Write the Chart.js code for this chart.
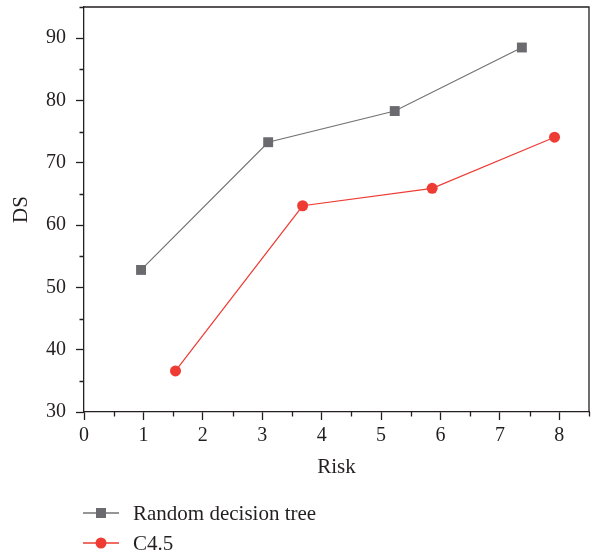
<!DOCTYPE html>
<html>
<head>
<meta charset="utf-8">
<script src="https://cdn.jsdelivr.net/npm/chart.js@4.4.1/dist/chart.umd.min.js"></script>
<style>
  html, body { margin: 0; padding: 0; background: #fff; }
  #wrap { position: relative; width: 596px; height: 554px; }
  #legend { position: absolute; left: 83px; top: 498px; font-family: 'Liberation Serif', serif; font-size: 21px; color: #231f20; }
  .row { display: flex; align-items: center; height: 30px; }
  .row svg { margin-right: 14px; }
</style>
</head>
<body>
<div id="wrap">
  <canvas id="c" width="596" height="554"></canvas>
  <div id="legend"></div>
</div>
<script>
// ---- data ----
const seriesNames = ['Random decision tree', 'C4.5'];
const rdtRisk = [0.96, 3.10, 5.23, 7.37];
const rdtDS   = [52.8, 73.3, 78.3, 88.5];
const c45Risk = [1.54, 3.68, 5.86, 7.92];
const c45DS   = [36.6, 63.1, 65.9, 74.1];
const xTicks = [0, 1, 2, 3, 4, 5, 6, 7, 8];
const yTicks = [30, 40, 50, 60, 70, 80, 90];
const xMinorTicks = [0.5, 1.5, 2.5, 3.5, 4.5, 5.5, 6.5, 7.5, 8.5];
const yMinorTicks = [35, 45, 55, 65, 75, 85, 95];
const xTitle = 'Risk';
const yTitle = 'DS';

const GRAY_LINE = '#737373';
const GRAY_MARK = '#6a6a6f';
const RED = '#ee3b33';
const INK = '#231f20';
const FONT = "'Liberation Serif', serif";

function pts(xs, ys) { return xs.map((x, i) => ({ x: x, y: ys[i] })); }

const frame = {
  id: 'frame',
  afterDraw(chart) {
    const { ctx, chartArea: a, scales: { x, y } } = chart;
    ctx.save();
    ctx.strokeStyle = INK;
    ctx.lineWidth = 1.3;
    ctx.beginPath();
    ctx.moveTo(a.left, a.top);
    ctx.lineTo(a.right, a.top);
    ctx.lineTo(a.right, a.bottom);
    ctx.stroke();
    ctx.beginPath();
    xMinorTicks.forEach(v => {
      const px = Math.round(x.getPixelForValue(v)) + 0.5;
      ctx.moveTo(px, a.bottom);
      ctx.lineTo(px, a.bottom + 4.5);
    });
    yMinorTicks.forEach(v => {
      const py = Math.round(y.getPixelForValue(v)) + 0.5;
      ctx.moveTo(a.left, py);
      ctx.lineTo(a.left - 4.5, py);
    });
    ctx.stroke();
    ctx.restore();
  }
};

new Chart(document.getElementById('c'), {
  type: 'line',
  data: {
    datasets: [
      {
        label: seriesNames[0],
        data: pts(rdtRisk, rdtDS),
        borderColor: GRAY_LINE,
        borderWidth: 1.2,
        pointStyle: 'rect',
        pointRadius: 7,
        pointBackgroundColor: GRAY_MARK,
        pointBorderColor: GRAY_MARK,
        pointBorderWidth: 0,
        tension: 0
      },
      {
        label: seriesNames[1],
        data: pts(c45Risk, c45DS),
        borderColor: RED,
        borderWidth: 1.2,
        pointStyle: 'circle',
        pointRadius: 5.5,
        pointBackgroundColor: RED,
        pointBorderColor: RED,
        pointBorderWidth: 0,
        tension: 0
      }
    ]
  },
  options: {
    responsive: false,
    animation: false,
    devicePixelRatio: 1,
    layout: { padding: { left: 0, top: 6, right: 7, bottom: 0 } },
    plugins: { legend: { display: false }, tooltip: { enabled: false } },
    scales: {
      x: {
        type: 'linear',
        min: 0, max: 8.5,
        afterBuildTicks(s) { s.ticks = xTicks.map(v => ({ value: v })); },
        afterFit(s) { s.height = 142; s.paddingLeft = 0; s.paddingRight = 0; },
        grid: { drawOnChartArea: false, drawTicks: true, tickLength: 8, tickColor: INK, tickWidth: 1.3 },
        border: { color: INK, width: 1.3 },
        ticks: { color: INK, font: { family: FONT, size: 20 }, padding: 4, maxRotation: 0, autoSkip: false },
        title: { display: true, text: xTitle, color: INK, font: { family: FONT, size: 21 }, padding: { top: 0, bottom: 74 } }
      },
      y: {
        type: 'linear',
        min: 30, max: 95,
        afterBuildTicks(s) { s.ticks = yTicks.map(v => ({ value: v })); },
        afterFit(s) { s.width = 84; s.paddingTop = 0; s.paddingBottom = 0; },
        grid: { drawOnChartArea: false, drawTicks: true, tickLength: 8, tickColor: INK, tickWidth: 1.3 },
        border: { color: INK, width: 1.3 },
        ticks: { color: INK, font: { family: FONT, size: 20 }, padding: 10, autoSkip: false },
        title: { display: true, text: yTitle, color: INK, font: { family: FONT, size: 21 }, padding: { top: 9, bottom: 0 } }
      }
    }
  },
  plugins: [frame]
});

// HTML legend
const legendDefs = [
  { name: seriesNames[0], color: GRAY_LINE, mark: GRAY_MARK, shape: 'rect' },
  { name: seriesNames[1], color: RED, mark: RED, shape: 'circle' }
];
const lg = document.getElementById('legend');
legendDefs.forEach(d => {
  const row = document.createElement('div');
  row.className = 'row';
  const markSvg = d.shape === 'rect'
    ? `<rect x="13" y="2" width="10" height="10" fill="${d.mark}"/>`
    : `<circle cx="18" cy="7" r="5.5" fill="${d.mark}"/>`;
  row.innerHTML = `<svg width="36" height="14" viewBox="0 0 36 14"><line x1="0" y1="7" x2="36" y2="7" stroke="${d.color}" stroke-width="1.3"/>${markSvg}</svg><span>${d.name}</span>`;
  lg.appendChild(row);
});
</script>
</body>
</html>
